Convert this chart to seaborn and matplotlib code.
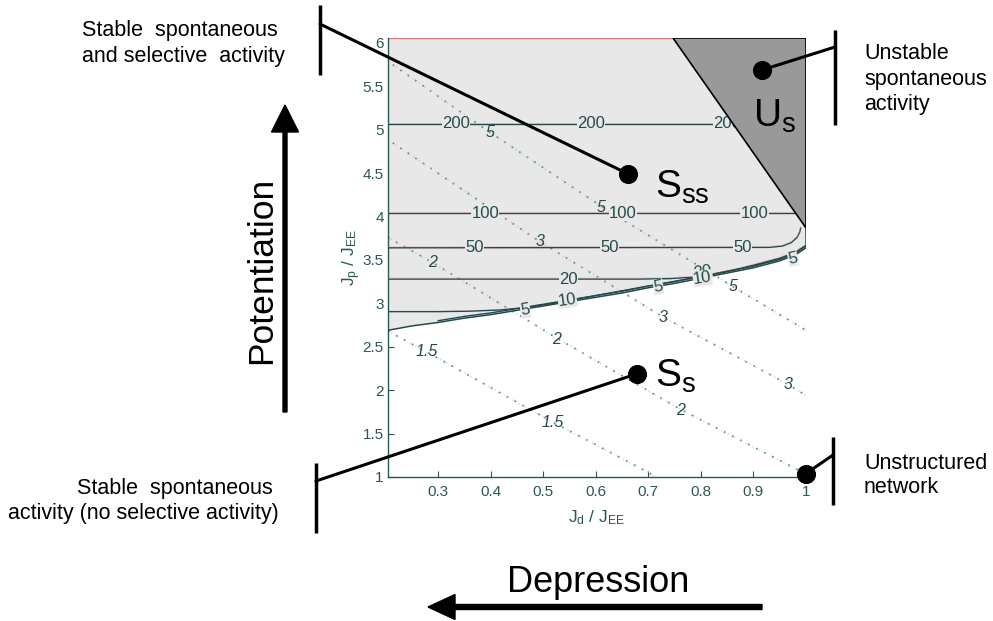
import matplotlib
matplotlib.use('Agg')
import matplotlib.pyplot as plt
import seaborn as sns

sns.set_theme(style='white')
plt.rcParams['font.family'] = ['Liberation Sans', 'DejaVu Sans']
plt.rcParams['text.color'] = 'black'
plt.rcParams['mathtext.fontset'] = 'custom'
plt.rcParams['mathtext.rm'] = 'Liberation Sans'
plt.rcParams['mathtext.it'] = 'Liberation Sans:italic'
plt.rcParams['mathtext.default'] = 'regular'

# boundary between S_s (below) and S_ss (above)
bound_jd = [0.205, 0.25, 0.30, 0.35, 0.40, 0.45, 0.50, 0.55, 0.60, 0.65, 0.70,
            0.75, 0.80, 0.85, 0.90, 0.95, 0.98, 1.00, 1.00]
bound_jp = [2.69, 2.74, 2.78, 2.83, 2.87, 2.92, 2.97, 3.02, 3.07, 3.12, 3.18,
            3.23, 3.29, 3.35, 3.41, 3.49, 3.56, 3.64, 3.87]

# unstable corner U_s
us_jd = [0.747, 1.0, 1.0]
us_jp = [6.063, 6.063, 3.87]

# solid contours (number of selective states)
c200_jd = [0.205, 0.862]
c200_jp = [5.07, 5.07]
c100_jd = [0.205, 0.980]
c100_jp = [4.04, 4.04]
c50_jd = [0.205, 0.93, 0.955, 0.972, 0.983, 0.988, 0.990]
c50_jp = [3.64, 3.645, 3.66, 3.70, 3.76, 3.82, 3.87]
c20_jd = [0.205, 0.68, 0.74, 0.78, 0.82, 0.86, 0.90, 0.95, 0.98, 1.00]
c20_jp = [3.28, 3.28, 3.285, 3.30, 3.33, 3.38, 3.44, 3.52, 3.59, 3.67]
c10_jd = [0.205, 0.30, 0.36, 0.42, 0.47, 0.52, 0.60, 0.70, 0.80, 0.90, 0.95, 0.98]
c10_jp = [2.905, 2.905, 2.91, 2.925, 2.955, 3.00, 3.09, 3.20, 3.31, 3.43, 3.51, 3.58]
c5_jd = [0.30, 0.35, 0.40, 0.45, 0.50, 0.55, 0.60, 0.65, 0.70, 0.75, 0.80,
         0.85, 0.90, 0.95, 0.98, 1.00]
c5_jp = [2.80, 2.85, 2.89, 2.94, 2.99, 3.04, 3.09, 3.14, 3.20, 3.25,
         3.31, 3.37, 3.43, 3.51, 3.58, 3.66]
solid = [(c200_jd, c200_jp), (c100_jd, c100_jp), (c50_jd, c50_jp),
         (c20_jd, c20_jp), (c10_jd, c10_jp), (c5_jd, c5_jp)]

sl_jd = [0.334, 0.591, 0.850, 0.390, 0.652, 0.902, 0.369, 0.626, 0.879,
         0.548, 0.803, 0.546, 0.803, 0.466, 0.719, 0.975]
sl_jp = [5.07, 5.07, 5.07, 4.04, 4.04, 4.04, 3.64, 3.64, 3.64,
         3.28, 3.36, 3.04, 3.29, 2.92, 3.19, 3.52]
sl_txt = ['200', '200', '200', '100', '100', '100', '50', '50', '50',
          '20', '20', '10', '10', '5', '5', '5']
sl_rot = [0, 0, 0, 0, 0, 0, 0, 0, 0, 0, 9, 8, 9, 8, 9, 12]

# dotted contours
d5_jd = [0.214, 0.399, 0.628, 0.862, 1.0]
d5_jp = [5.75, 4.97, 4.05, 3.19, 2.69]
d3_jd = [0.214, 0.494, 0.729, 0.965, 1.0]
d3_jp = [4.85, 3.71, 2.84, 2.07, 1.94]
d2_jd = [0.205, 0.290, 0.526, 0.761, 0.995]
d2_jp = [3.76, 3.47, 2.60, 1.78, 1.05]
d15_jd = [0.205, 0.279, 0.519, 0.698, 0.714]
d15_jp = [2.68, 2.44, 1.63, 1.06, 1.0]
dotted = [(d5_jd, d5_jp), (d3_jd, d3_jp), (d2_jd, d2_jp), (d15_jd, d15_jp)]

dl_jd = [0.399, 0.610, 0.862, 0.494, 0.729, 0.965, 0.290, 0.526, 0.761, 0.279, 0.519]
dl_jp = [4.97, 4.10, 3.19, 3.71, 2.84, 2.07, 3.47, 2.58, 1.77, 2.44, 1.63]
dl_txt = ['5', '5', '5', '3', '3', '3', '2', '2', '2', '1.5', '1.5']

# marked points
pt_jd = [0.662, 0.917, 0.679, 1.0]
pt_jp = [4.49, 5.69, 2.19, 1.04]

xticks = [0.3, 0.4, 0.5, 0.6, 0.7, 0.8, 0.9, 1.0]
xticklabels = ['0.3', '0.4', '0.5', '0.6', '0.7', '0.8', '0.9', '1']
yticks = [1, 1.5, 2, 2.5, 3, 3.5, 4, 4.5, 5, 5.5, 6]
yticklabels = ['1', '1.5', '2', '2.5', '3', '3.5', '4', '4.5', '5', '5.5', '6']

xlim = (0.205, 1.0)
ylim = (1.0, 6.063)

line_c = '#254a4a'
tick_c = '#2a5656'
dot_c = '#4c9c9c'

fig = plt.figure(figsize=(9.93, 6.21), dpi=100)
ax = fig.add_axes([388 / 993, 1 - 477 / 621, 418 / 993, 439.5 / 621])

# shaded S_ss region
poly_x = bound_jd + [xlim[1], xlim[0]]
poly_y = bound_jp + [ylim[1], ylim[1]]
ax.fill(poly_x, poly_y, color='#e8e8e8', lw=0, zorder=1)
ax.plot([xlim[0], us_jd[0]], [ylim[1], ylim[1]], color='#e07878', lw=1.0, zorder=2)

for xs, ys in dotted:
    ax.plot(xs, ys, color=dot_c, lw=1.3, ls=(0, (1, 4)), zorder=2)
    ax.plot(xs, ys, color='#e8a0a0', lw=1.0, ls=(2.5, (1, 4)), alpha=0.6, zorder=2)

ax.plot(bound_jd, bound_jp, color=line_c, lw=1.1, zorder=3)
for xs, ys in solid:
    ax.plot(xs, ys, color=line_c, lw=1.0, zorder=3)
for xs, ys in solid[:4]:
    ax.plot(xs, [v + 0.012 for v in ys], color='#e08a8a', lw=0.5, alpha=0.45, zorder=3)

for x, y, t, r in zip(sl_jd, sl_jp, sl_txt, sl_rot):
    ax.text(x, y, t, ha='center', va='center', fontsize=12, color=line_c, rotation=r,
            zorder=4, bbox=dict(boxstyle='square,pad=0.02', fc='#e8e8e8', ec='none'))
for x, y, t in zip(dl_jd, dl_jp, dl_txt):
    ax.text(x, y, t, ha='center', va='center', fontsize=11.5, color=line_c,
            fontstyle='italic', zorder=4)

ax.fill(us_jd, us_jp, fc='#999999', ec='black', lw=1.2, zorder=5)

ax.scatter(pt_jd, pt_jp, s=190, color='black', zorder=7, clip_on=False, linewidths=0)

ax.set_xlim(*xlim)
ax.set_ylim(*ylim)
ax.set_xticks(xticks)
ax.set_xticklabels(xticklabels)
ax.set_yticks(yticks)
ax.set_yticklabels(yticklabels)
ax.tick_params(direction='in', length=4, width=0.8, color=tick_c, labelcolor=tick_c,
               labelsize=11, bottom=True, left=True)
ax.tick_params(axis='x', pad=6)
ax.tick_params(axis='y', pad=3)
for s in ['top', 'right']:
    ax.spines[s].set_visible(False)
for s in ['left', 'bottom']:
    ax.spines[s].set_color(tick_c)
    ax.spines[s].set_linewidth(1.0)
ax.set_facecolor('white')
ax.set_xlabel('$J_d$ / $J_{EE}$', fontsize=12.5, color=tick_c)
ax.set_ylabel('$J_p$ / $J_{EE}$', fontsize=12.5, color=tick_c)
ax.xaxis.set_label_coords(0.5, -0.072)
ax.yaxis.set_label_coords(-0.06, 0.5)

# overlay in pixel coordinates for the annotations
ov = fig.add_axes([0, 0, 1, 1])
ov.set_xlim(0, 993)
ov.set_ylim(621, 0)
ov.axis('off')
ov.patch.set_alpha(0)
ov.set_zorder(3)

fs = 15.5
ov.text(82, 36, 'Stable  spontaneous', fontsize=fs, ha='left', va='baseline')
ov.text(82, 62, 'and selective  activity', fontsize=fs, ha='left', va='baseline')
ov.text(77, 494, 'Stable  spontaneous', fontsize=fs, ha='left', va='baseline')
ov.text(8, 519, 'activity (no selective activity)', fontsize=fs, ha='left', va='baseline')
ov.text(864, 59, 'Unstable', fontsize=fs, ha='left', va='baseline')
ov.text(864, 85, 'spontaneous', fontsize=fs, ha='left', va='baseline')
ov.text(864, 110, 'activity', fontsize=fs, ha='left', va='baseline')
ov.text(864, 469, 'Unstructured', fontsize=fs, ha='left', va='baseline')
ov.text(864, 493, 'network', fontsize=fs, ha='left', va='baseline')

ov.text(262, 270, 'Potentiation', fontsize=25.5, rotation=90, ha='center', va='center')
ov.text(598, 592, 'Depression', fontsize=26, ha='center', va='baseline')

ov.text(655, 198, r'$S_{ss}$', fontsize=28, ha='left', va='baseline')
ov.text(655, 387, r'$S_{s}$', fontsize=28, ha='left', va='baseline')
ov.text(753, 127, r'$U_{s}$', fontsize=28, ha='left', va='baseline')

for bx, y0, y1 in [(320, 5, 75), (835, 30, 125), (316, 463, 533), (833, 437, 505)]:
    ov.plot([bx, bx], [y0, y1], color='black', lw=2.5, solid_capstyle='butt')

ends = [(320, 24), (835, 47), (316, 481), (833, 455)]
for i, (ex, ey) in enumerate(ends):
    ov.annotate('', xy=(pt_jd[i], pt_jp[i]), xycoords=ax.transData,
                xytext=(ex, ey), textcoords='data',
                arrowprops=dict(arrowstyle='-', lw=2.2, color='black', shrinkA=0, shrinkB=0),
                annotation_clip=False)

ov.arrow(285, 412, 0, -307, width=4, head_width=27, head_length=27,
         length_includes_head=True, color='black')
ov.arrow(762, 607, -334, 0, width=5, head_width=25, head_length=27,
         length_includes_head=True, color='black')

fig.savefig('out.png', dpi=100)
